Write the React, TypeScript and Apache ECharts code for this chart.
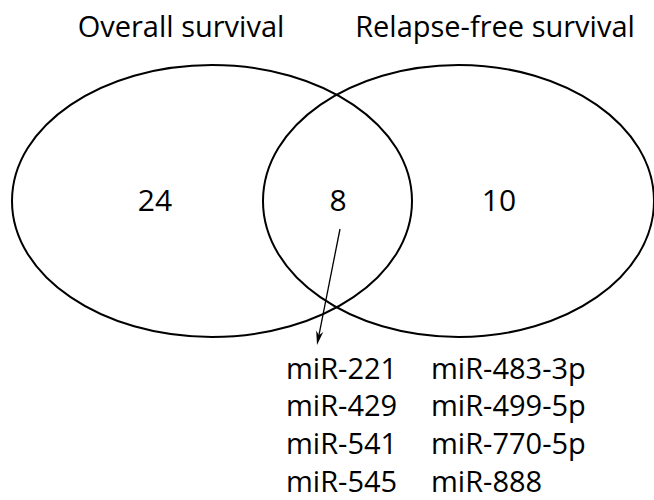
import React, { useEffect, useRef } from "react";
import * as echarts from "echarts";

// ---- data ----
const setNames = ["Overall survival", "Relapse-free survival"];
const regionCounts = [24, 8, 10]; // only OS, both, only RFS
const sharedMiRNAsCol1 = ["miR-221", "miR-429", "miR-541", "miR-545"];
const sharedMiRNAsCol2 = ["miR-483-3p", "miR-499-5p", "miR-770-5p", "miR-888"];

// ---- layout ----
const FONT = "'Open Sans', sans-serif";
const ellipses = [
  { cx: 212, cy: 201, rx: 200, ry: 136 },
  { cx: 458.5, cy: 201, rx: 195.5, ry: 136 },
];
const titlePos = [
  { x: 181, y: 25 },
  { x: 495, y: 25 },
];
const countPos = [
  { x: 155, y: 199 },
  { x: 338, y: 199 },
  { x: 499, y: 199 },
];
const arrowFrom = [340, 229];
const arrowTo = [317, 345];
const colX = [286, 431];
const rowY = [367, 404, 442, 480];

export default function App() {
  const ref = useRef<HTMLDivElement>(null);
  useEffect(() => {
    if (!ref.current) return;
    const chart = echarts.init(ref.current, null, { renderer: "svg" });
    const g: any[] = [];
    ellipses.forEach((e) => {
      g.push({
        type: "ellipse",
        shape: { cx: e.cx, cy: e.cy, rx: e.rx, ry: e.ry },
        style: { fill: "none", stroke: "#000", lineWidth: 2 },
      });
    });
    setNames.forEach((name, i) => {
      g.push({
        type: "text",
        x: titlePos[i].x,
        y: titlePos[i].y,
        style: {
          text: name,
          font: `29px ${FONT}`,
          fill: "#000",
          align: "center",
          verticalAlign: "middle",
        },
      });
    });
    regionCounts.forEach((c, i) => {
      g.push({
        type: "text",
        x: countPos[i].x,
        y: countPos[i].y,
        style: {
          text: String(c),
          font: `30px ${FONT}`,
          fill: "#000",
          align: "center",
          verticalAlign: "middle",
        },
      });
    });
    // arrow
    const dx = arrowTo[0] - arrowFrom[0];
    const dy = arrowTo[1] - arrowFrom[1];
    const len = Math.sqrt(dx * dx + dy * dy);
    const ux = dx / len, uy = dy / len;
    const nx = -uy, ny = ux;
    const hl = 14, hw = 3.6;
    const bx = arrowTo[0] - hl * ux, by = arrowTo[1] - hl * uy;
    g.push({
      type: "line",
      shape: { x1: arrowFrom[0], y1: arrowFrom[1], x2: bx + 4 * ux, y2: by + 4 * uy },
      style: { stroke: "#000", lineWidth: 1.3 },
    });
    g.push({
      type: "polygon",
      shape: {
        points: [
          [arrowTo[0], arrowTo[1]],
          [bx + hw * nx, by + hw * ny],
          [bx + 4 * ux, by + 4 * uy],
          [bx - hw * nx, by - hw * ny],
        ],
      },
      style: { fill: "#000", stroke: "none" },
    });
    [sharedMiRNAsCol1, sharedMiRNAsCol2].forEach((col, ci) => {
      col.forEach((name, ri) => {
        g.push({
          type: "text",
          x: colX[ci],
          y: rowY[ri],
          style: {
            text: name,
            font: `29px ${FONT}`,
            fill: "#000",
            align: "left",
            verticalAlign: "middle",
          },
        });
      });
    });
    chart.setOption({
      animation: false,
      backgroundColor: "#fff",
      graphic: { elements: g },
    });
    return () => chart.dispose();
  }, []);
  return (
    <div
      ref={ref}
      style={{ position: "fixed", left: 0, top: 0, width: 654, height: 500 }}
    />
  );
}
